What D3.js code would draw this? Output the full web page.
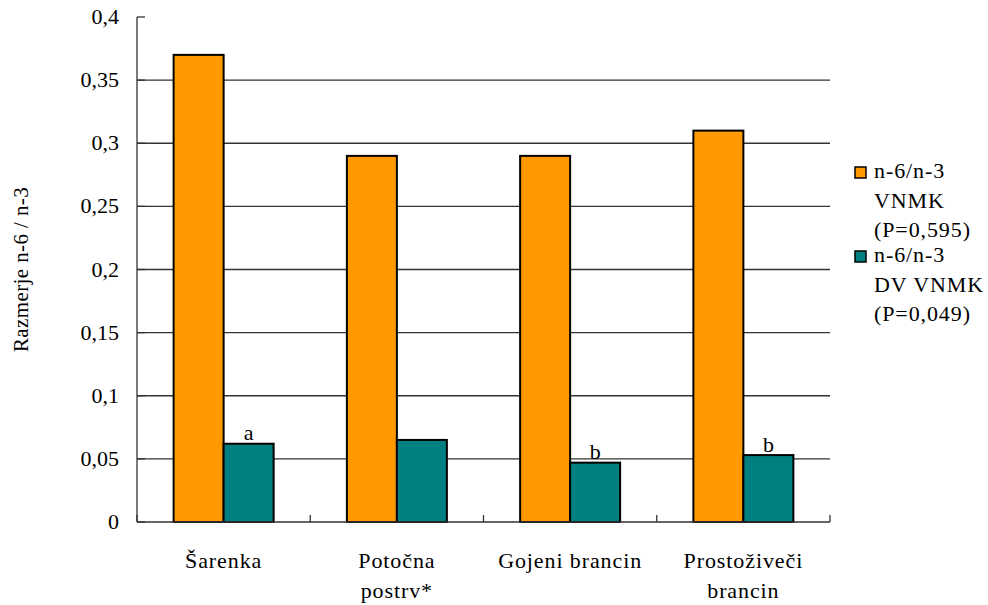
<!DOCTYPE html>
<html>
<head>
<meta charset="utf-8">
<script src="https://cdn.jsdelivr.net/npm/d3@7"></script>
<style>
  html, body { margin: 0; padding: 0; background: #fff; }
  svg { display: block; }
</style>
</head>
<body>
<svg id="chart" width="988" height="605" font-family="'Liberation Serif', 'Times New Roman', Times, 'DejaVu Serif', serif"></svg>
<script>
// Fish species (category axis); "\n" breaks a label onto two lines
const categories = ["Šarenka", "Potočna\npostrv*", "Gojeni brancin", "Prostoživeči\nbrancin"];

// n-6/n-3 ratio of polyunsaturated fatty acids
const ratioPUFA = [0.37, 0.29, 0.29, 0.31];
// n-6/n-3 ratio of long-chain polyunsaturated fatty acids
const ratioLCPUFA = [0.062, 0.065, 0.047, 0.053];
// significance letters above the second series
const lcpufaLetters = ["a", "", "b", "b"];

const seriesNames = ["n-6/n-3\nVNMK\n(P=0,595)", "n-6/n-3\nDV VNMK\n(P=0,049)"];
const seriesColors = ["#FF9900", "#008080"];

const yTickValues = [0, 0.05, 0.1, 0.15, 0.2, 0.25, 0.3, 0.35, 0.4];
const yTitle = "Razmerje n-6 / n-3";

const svg = d3.select("#chart");
const plot = { left: 137, right: 830, top: 17, bottom: 522 };

const fmt = d3.formatLocale({ decimal: ",", thousands: ".", grouping: [3], currency: ["", ""] }).format("~g");

const y = d3.scaleLinear().domain([0, 0.4]).range([plot.bottom, plot.top]);
const x0 = d3.scaleBand().domain(d3.range(categories.length)).range([plot.left, plot.right]).paddingInner(0).paddingOuter(0);
const bw = x0.bandwidth();
const groupGap = bw - 100;
const x1 = d3.scaleBand().domain([0, 1]).range([groupGap / 2, bw - groupGap / 2]).padding(0);

// horizontal gridlines
svg.append("g").selectAll("line")
  .data(yTickValues.filter(v => v > 0 && v < 0.4))
  .join("line")
  .attr("x1", plot.left).attr("x2", plot.right)
  .attr("y1", d => y(d)).attr("y2", d => y(d))
  .attr("stroke", "#333").attr("stroke-width", 1.3);

// bars
const seriesData = [ratioPUFA, ratioLCPUFA];
const groups = svg.append("g").selectAll("g")
  .data(categories.map((c, i) => i))
  .join("g")
  .attr("transform", i => `translate(${x0(i)},0)`);

groups.selectAll("rect")
  .data(i => seriesData.map((s, k) => ({ k, v: s[i] })))
  .join("rect")
  .attr("x", d => x1(d.k))
  .attr("width", x1.bandwidth())
  .attr("y", d => y(d.v))
  .attr("height", d => y(0) - y(d.v))
  .attr("fill", d => seriesColors[d.k])
  .attr("stroke", "#000").attr("stroke-width", 2);

// significance letters
groups.append("text")
  .attr("x", x1(1) + x1.bandwidth() / 2)
  .attr("y", i => y(ratioLCPUFA[i]) - 3.5)
  .attr("text-anchor", "middle")
  .attr("font-size", 22)
  .text(i => lcpufaLetters[i]);

// y axis line, ticks, labels
const axisG = svg.append("g");
axisG.append("line")
  .attr("x1", plot.left).attr("x2", plot.left)
  .attr("y1", plot.top).attr("y2", plot.bottom)
  .attr("stroke", "#333").attr("stroke-width", 1.3);
axisG.selectAll("line.tick")
  .data(yTickValues)
  .join("line").attr("class", "tick")
  .attr("x1", plot.left).attr("x2", plot.left + 8)
  .attr("y1", d => y(d)).attr("y2", d => y(d))
  .attr("stroke", "#333").attr("stroke-width", 1.3);
axisG.selectAll("text")
  .data(yTickValues)
  .join("text")
  .attr("x", plot.left - 18)
  .attr("y", d => y(d) + 7)
  .attr("text-anchor", "end")
  .attr("font-size", 22)
  .text(d => fmt(d));

// x axis line and category dividers
axisG.append("line")
  .attr("x1", plot.left).attr("x2", plot.right)
  .attr("y1", plot.bottom).attr("y2", plot.bottom)
  .attr("stroke", "#333").attr("stroke-width", 1.3);
axisG.selectAll("line.xtick")
  .data(d3.range(categories.length + 1))
  .join("line").attr("class", "xtick")
  .attr("x1", i => plot.left + i * bw).attr("x2", i => plot.left + i * bw)
  .attr("y1", plot.bottom).attr("y2", plot.bottom - 7)
  .attr("stroke", "#333").attr("stroke-width", 1.3);

// category labels
const catLabels = svg.append("g").selectAll("text")
  .data(categories.map((c, i) => ({ c, i })))
  .join("text")
  .attr("x", d => x0(d.i) + bw / 2)
  .attr("y", 568)
  .attr("text-anchor", "middle")
  .attr("font-size", 22)
  .attr("letter-spacing", 0.9);
catLabels.selectAll("tspan")
  .data(d => d.c.split("\n").map((t, j) => ({ t, j, x: x0(d.i) + bw / 2 })))
  .join("tspan")
  .attr("x", d => d.x)
  .attr("dy", d => d.j === 0 ? 0 : 30)
  .text(d => d.t);

// y axis title
svg.append("text")
  .attr("transform", `translate(28,${(plot.top + plot.bottom) / 2}) rotate(-90)`)
  .attr("text-anchor", "middle")
  .attr("font-size", 21)
  .attr("letter-spacing", 0.4)
  .text(yTitle);

// legend
const legend = svg.append("g");
seriesNames.forEach((name, k) => {
  const top = 178 + k * 84;
  legend.append("rect")
    .attr("x", 855).attr("y", top - 11)
    .attr("width", 11).attr("height", 11)
    .attr("fill", seriesColors[k])
    .attr("stroke", "#000").attr("stroke-width", 1.5);
  const t = legend.append("text")
    .attr("x", 874).attr("y", top)
    .attr("font-size", 22)
    .attr("letter-spacing", 0.9);
  name.split("\n").forEach((line, j) => {
    t.append("tspan").attr("x", 874).attr("dy", j === 0 ? 0 : 29.5).text(line);
  });
});
</script>
</body>
</html>
